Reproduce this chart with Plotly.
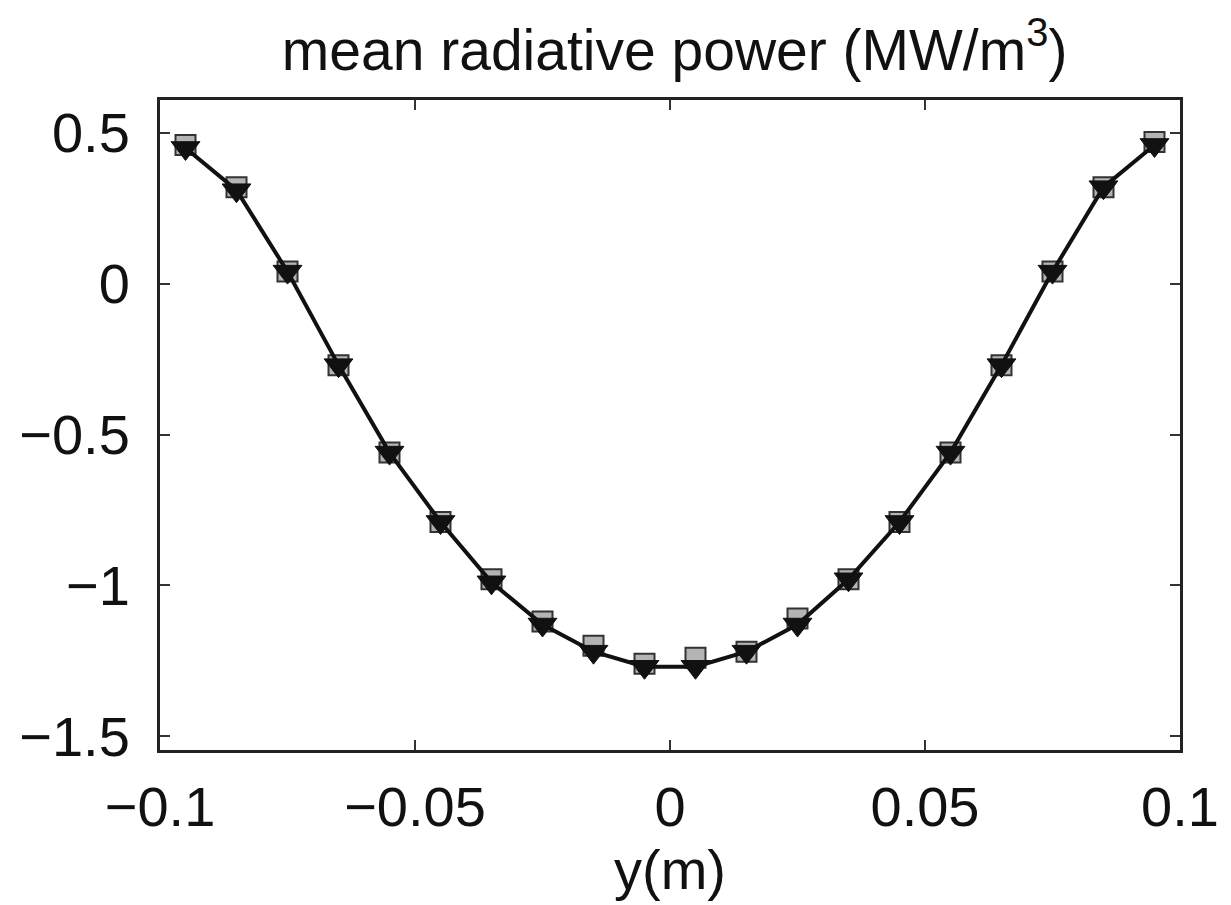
import plotly.graph_objects as go

y_pos = [-0.095, -0.085, -0.075, -0.065, -0.055, -0.045, -0.035, -0.025, -0.015, -0.005,
         0.005, 0.015, 0.025, 0.035, 0.045, 0.055, 0.065, 0.075, 0.085, 0.095]
power_sq = [0.46, 0.32, 0.04, -0.27, -0.56, -0.79, -0.98, -1.12, -1.20, -1.26,
            -1.24, -1.22, -1.11, -0.98, -0.79, -0.56, -0.27, 0.04, 0.32, 0.47]
power_tri = [0.45, 0.31, 0.04, -0.27, -0.56, -0.79, -0.99, -1.13, -1.22, -1.27,
             -1.27, -1.22, -1.13, -0.98, -0.79, -0.56, -0.27, 0.04, 0.32, 0.46]

xticks = [-0.1, -0.05, 0, 0.05, 0.1]
xtick_text = ["\u22120.1", "\u22120.05", "0", "0.05", "0.1"]
yticks = [0.5, 0, -0.5, -1, -1.5]
ytick_text = ["0.5", "0", "\u22120.5", "\u22121", "\u22121.5"]

fig = go.Figure()
fig.add_trace(go.Scatter(
    x=y_pos, y=power_sq, mode="markers",
    marker=dict(symbol="square", size=20, color="#b4b4b4",
                line=dict(color="#333333", width=2)),
    showlegend=False))
fig.add_trace(go.Scatter(
    x=y_pos, y=power_tri, mode="lines+markers",
    line=dict(color="#111111", width=4),
    marker=dict(symbol="triangle-down", size=25, color="#111111",
                line=dict(color="#111111", width=1)),
    showlegend=False))

font_family = "Liberation Sans, Arial, sans-serif"
fig.update_layout(
    width=1231, height=905,
    margin=dict(l=160, r=43, t=100, b=155),
    paper_bgcolor="white", plot_bgcolor="white",
    font=dict(family=font_family, size=56, color="#111111"),
    title=dict(text="mean radiative power (MW/m<sup>3</sup>)", x=0.548, xanchor="center",
               y=0.945, yanchor="middle", font=dict(size=57, family=font_family)),
    xaxis=dict(range=[-0.1, 0.1], tickvals=xticks, ticktext=xtick_text,
               ticks="inside", ticklen=10, tickwidth=1.5, tickcolor="#333",
               showline=True, linecolor="#222", linewidth=3, mirror="allticks",
               showgrid=False, zeroline=False,
               tickfont=dict(size=56), ticklabelstandoff=6,
               title=dict(text="y(m)", font=dict(size=56), standoff=0)),
    yaxis=dict(range=[-1.546, 0.609], tickvals=yticks, ticktext=ytick_text,
               ticks="inside", ticklen=10, tickwidth=1.5, tickcolor="#333",
               showline=True, linecolor="#222", linewidth=3, mirror="allticks",
               showgrid=False, zeroline=False,
               tickfont=dict(size=56), ticklabelstandoff=16),
)

fig.write_html("out.html")
